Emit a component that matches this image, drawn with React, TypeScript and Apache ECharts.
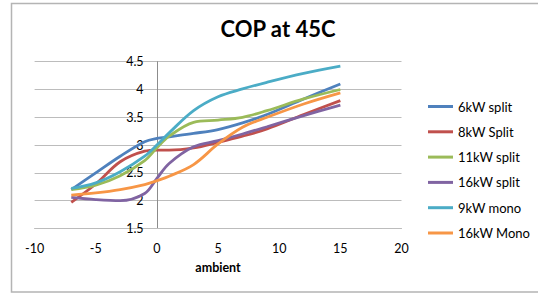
import React, { useEffect, useRef } from "react";
import * as echarts from "echarts";

const ambient = [-7, -5, -3, -1, 0, 1, 3, 5, 7, 9, 12, 15];
const split6 = [2.2, 2.5, 2.8, 3.06, 3.12, 3.15, 3.21, 3.28, 3.4, 3.55, 3.83, 4.1];
const split8 = [1.97, 2.3, 2.7, 2.89, 2.91, 2.91, 2.95, 3.05, 3.16, 3.29, 3.55, 3.8];
const split11 = [2.2, 2.28, 2.45, 2.72, 2.95, 3.16, 3.41, 3.45, 3.5, 3.62, 3.83, 4.0];
const split16 = [2.06, 2.02, 2.0, 2.13, 2.4, 2.67, 2.97, 3.08, 3.2, 3.33, 3.53, 3.72];
const mono9 = [2.22, 2.32, 2.52, 2.8, 3.0, 3.22, 3.62, 3.87, 4.01, 4.13, 4.29, 4.42];
const mono16 = [2.1, 2.14, 2.2, 2.29, 2.36, 2.44, 2.65, 3.02, 3.32, 3.5, 3.74, 3.94];

const seriesNames = ["6kW split", "8kW Split", "11kW split", "16kW split", "9kW mono", "16kW Mono"];
const seriesValues = [split6, split8, split11, split16, mono9, mono16];
const colors = ["#4F81BD", "#C0504D", "#9BBB59", "#8064A2", "#4BACC6", "#F79646"];

const FONT = "Lato, 'Noto Sans', sans-serif";

export default function App() {
  const ref = useRef<HTMLDivElement>(null);
  useEffect(() => {
    if (!ref.current) return;
    const chart = echarts.init(ref.current, undefined, { renderer: "svg" });
    chart.setOption({
      animation: false,
      backgroundColor: "#ffffff",
      textStyle: { fontFamily: FONT },
      graphic: [
        {
          type: "rect",
          silent: true,
          z: -1,
          shape: { x: 11.5, y: 3.5, width: 560, height: 288.5 },
          style: { fill: "none", stroke: "#b4b4b4", lineWidth: 1.5 },
        },
        {
          type: "text",
          x: 278,
          y: 28,
          style: {
            text: "COP at 45C",
            fontFamily: FONT,
            fontWeight: "bold",
            fontSize: 22,
            fill: "#000",
            textAlign: "center",
            textVerticalAlign: "middle",
          },
        },
      ],
      grid: { left: 34.6, top: 61.7, width: 366.9, height: 166.8, containLabel: false },
      legend: {
        orient: "vertical",
        left: 428,
        top: 100,
        padding: 0,
        icon: "rect",
        itemWidth: 25,
        itemHeight: 3,
        itemGap: 12.3,
        textStyle: { fontFamily: FONT, fontSize: 13, color: "#000" },
        data: seriesNames,
      },
      xAxis: {
        type: "value",
        min: -10,
        max: 20,
        interval: 5,
        name: "ambient",
        nameLocation: "middle",
        nameGap: 32,
        nameTextStyle: { fontFamily: FONT, fontWeight: "bold", fontSize: 12.5, color: "#000" },
        axisLine: { onZero: false, lineStyle: { color: "#bcbcbc", width: 1 } },
        axisTick: { show: false },
        axisLabel: { fontFamily: FONT, fontSize: 12.5, color: "#000", margin: 13 },
        splitLine: { show: false },
      },
      yAxis: {
        type: "value",
        min: 1.5,
        max: 4.5,
        interval: 0.5,
        axisLine: { show: true, onZero: true, lineStyle: { color: "#8c8c8c", width: 1 } },
        axisTick: { show: false },
        axisLabel: { fontFamily: FONT, fontSize: 12.5, color: "#000", margin: -109 },
        splitLine: { show: true, lineStyle: { color: "#bcbcbc", width: 1 } },
      },
      series: seriesNames.map((name, i) => ({
        name,
        type: "line",
        smooth: 0.35,
        symbol: "none",
        data: ambient.map((x, j) => [x, seriesValues[i][j]]),
        lineStyle: { color: colors[i], width: 2.8 },
        itemStyle: { color: colors[i] },
      })),
    });
    return () => chart.dispose();
  }, []);
  return (
    <div
      ref={ref}
      style={{ position: "fixed", left: 0, top: 0, width: 538, height: 294 }}
    />
  );
}
